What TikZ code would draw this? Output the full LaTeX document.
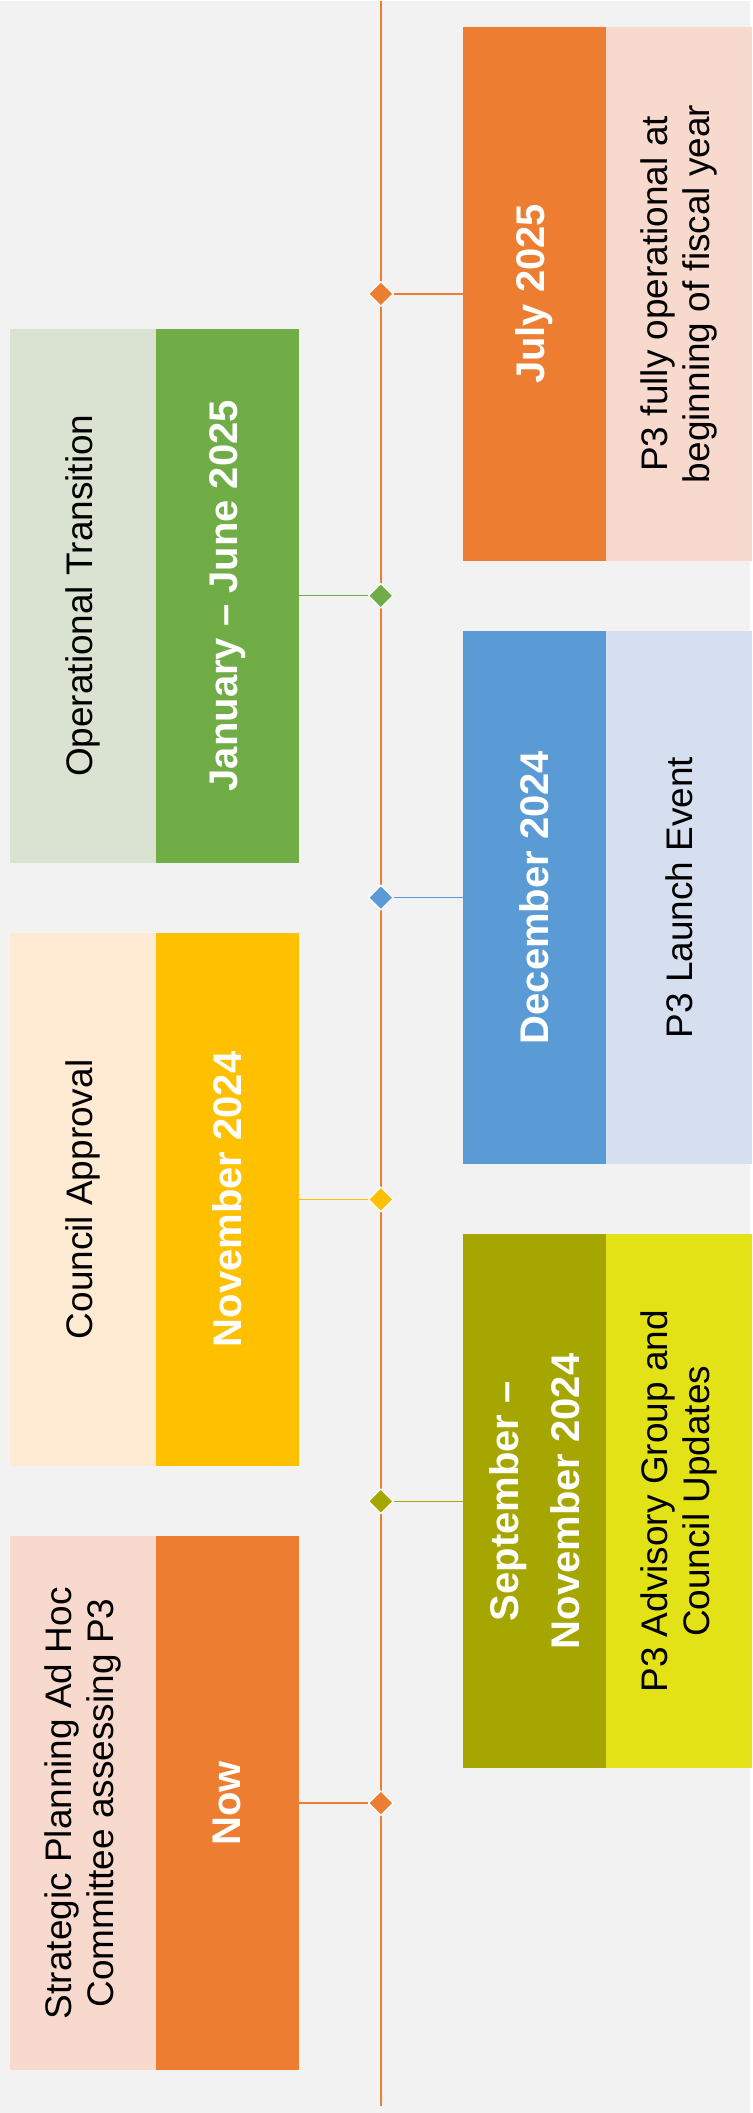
\documentclass[tikz,border=0pt]{standalone}
\usepackage{fontspec}
\setmainfont{Liberation Sans}
\usepackage{tikz}
\usetikzlibrary{shapes.geometric, positioning}

\definecolor{orangeD}{HTML}{ED7D31}
\definecolor{orangeL}{HTML}{F8D9CE}
\definecolor{greenD}{HTML}{70AD47}
\definecolor{greenL}{HTML}{DAE3D2}
\definecolor{blueD}{HTML}{5B9BD5}
\definecolor{blueL}{HTML}{D6DFEF}
\definecolor{yellowD}{HTML}{FFC000}
\definecolor{yellowL}{HTML}{FFEAD4}
\definecolor{oliveD}{HTML}{A6A600}
\definecolor{oliveL}{HTML}{E2E216}
\definecolor{page}{HTML}{F2F2F2}

\begin{document}
\begin{tikzpicture}[x=1pt, y=-1pt,
    datebox/.style={rectangle, rotate=90, minimum width=534pt, minimum height=143pt, inner sep=0pt, text=white, font=\bfseries\fontsize{40}{61}\selectfont, align=center},
    notebox/.style={rectangle, rotate=90, minimum width=534pt, minimum height=146pt, inner sep=0pt, text=black, font=\fontsize{37}{42}\selectfont, align=center},
    milestone/.style={diamond, draw=white, line width=1.2pt, minimum size=25pt, inner sep=0pt},
    link/.style={line width=1.5pt} ]

    \fill[page] (0,0) rectangle (750,2113);

    %Axis
    \coordinate (axis_top) at (381,0);
    \coordinate (axis_end) at (381,2106);
    \draw[orangeD, line width=2pt] (axis_top) -- (axis_end);

    %Nodes
    \node[datebox, fill=orangeD] (jul_date) at (534.5,293) {July 2025};
    \node[notebox, fill=orangeL] (jul_note) [below=0pt of jul_date] {P3 fully operational at\\beginning of fiscal year};
    \node[milestone, fill=orangeD] (jul_mark) at (381,293) {};

    \node[datebox, fill=greenD] (jan_date) at (227.5,595) {January -- June 2025};
    \node[notebox, fill=greenL] (jan_note) [above=0pt of jan_date] {Operational Transition};
    \node[milestone, fill=greenD] (jan_mark) at (381,595) {};

    \node[datebox, fill=blueD] (dec_date) at (534.5,897) {December 2024};
    \node[notebox, fill=blueL] (dec_note) [below=0pt of dec_date] {P3 Launch Event};
    \node[milestone, fill=blueD] (dec_mark) at (381,897) {};

    \node[datebox, fill=yellowD] (nov_date) at (227.5,1199) {November 2024};
    \node[notebox, fill=yellowL] (nov_note) [above=0pt of nov_date] {Council Approval};
    \node[milestone, fill=yellowD] (nov_mark) at (381,1199) {};

    \node[datebox, fill=oliveD] (sep_date) at (534.5,1501) {September --\\November 2024};
    \node[notebox, fill=oliveL] (sep_note) [below=0pt of sep_date] {P3 Advisory Group and\\Council Updates};
    \node[milestone, fill=oliveD] (sep_mark) at (381,1501) {};

    \node[datebox, fill=orangeD] (now_date) at (227.5,1803) {Now};
    \node[notebox, fill=orangeL] (now_note) [above=0pt of now_date] {Strategic Planning Ad Hoc\\Committee assessing P3};
    \node[milestone, fill=orangeD] (now_mark) at (381,1803) {};

    %Lines
    \draw[link, orangeD] (jul_mark) -- (jul_date);
    \draw[link, greenD] (jan_mark) -- (jan_date);
    \draw[link, blueD] (dec_mark) -- (dec_date);
    \draw[link, yellowD] (nov_mark) -- (nov_date);
    \draw[link, oliveD] (sep_mark) -- (sep_date);
    \draw[link, orangeD] (now_mark) -- (now_date);
\end{tikzpicture}
\end{document}
